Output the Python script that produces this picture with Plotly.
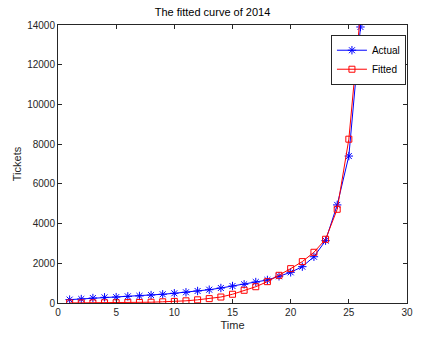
import plotly.graph_objects as go

time = list(range(1, 27))
actual = [170, 200, 250, 285, 295, 335, 355, 400, 440, 490, 540, 605, 670, 755, 855, 940,
          1055, 1160, 1345, 1545, 1830, 2330, 3140, 4940, 7400, 13900]
fitted = [3, 5, 7, 10, 14, 20, 28, 40, 60, 80, 110, 160, 220, 300, 440, 640,
          820, 1075, 1395, 1730, 2085, 2555, 3210, 4720, 8250, 14600]

font = "Liberation Sans, Arial, sans-serif"

fig = go.Figure()
fig.add_trace(go.Scatter(
    x=time, y=actual, name="Actual", mode="lines+markers",
    line=dict(color="#0000ff", width=1),
    marker=dict(symbol="asterisk-open", size=7, color="#0000ff",
                line=dict(color="#0000ff", width=1)),
))
fig.add_trace(go.Scatter(
    x=time, y=fitted, name="Fitted", mode="lines+markers",
    line=dict(color="#ff0000", width=1),
    marker=dict(symbol="square-open", size=6, color="#ff0000",
                line=dict(color="#ff0000", width=1)),
))

axis_common = dict(
    showline=True, linecolor="#262626", linewidth=1, mirror="ticks",
    ticks="inside", ticklen=4, tickcolor="#262626", showgrid=False, zeroline=False,
    tickfont=dict(family=font, size=10, color="#262626"), tickformat="d",
)
fig.update_layout(
    width=425, height=349,
    margin=dict(l=58, r=15, t=25, b=46),
    paper_bgcolor="white", plot_bgcolor="white",
    title=dict(text="The fitted curve of 2014", x=0.5, xanchor="center",
               y=1 - 12/349, yanchor="middle",
               font=dict(family=font, size=11, color="black")),
    xaxis=dict(range=[0, 30], dtick=5, tick0=0,
               title=dict(text="Time", font=dict(family=font, size=11, color="#262626"), standoff=4),
               **axis_common),
    yaxis=dict(range=[0, 14000], dtick=2000, tick0=0,
               title=dict(text="Tickets", font=dict(family=font, size=11, color="#262626"), standoff=3),
               **axis_common),
    legend=dict(x=0.997, y=0.965, xanchor="right", yanchor="top",
                bgcolor="white", bordercolor="#262626", borderwidth=1,
                font=dict(family=font, size=10, color="black"),
                itemwidth=30, tracegroupgap=0),
    showlegend=True,
)
fig.write_html("out.html")
